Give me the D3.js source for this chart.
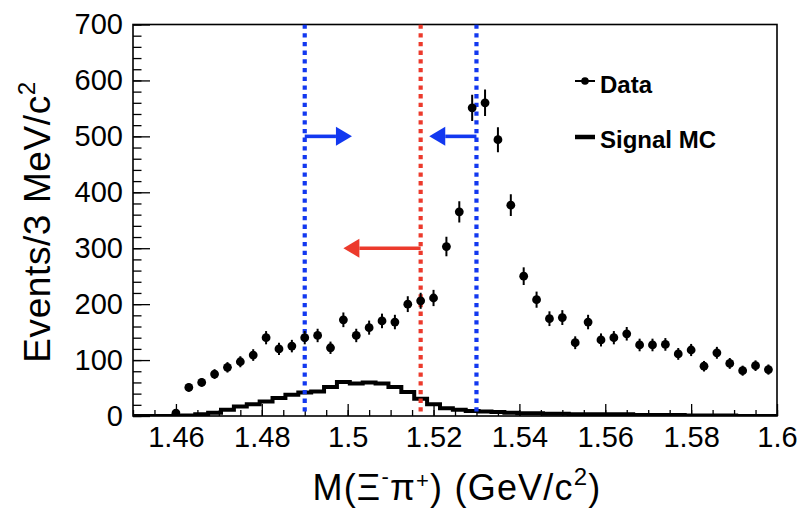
<!DOCTYPE html>
<html><head><meta charset="utf-8">
<script src="https://cdn.jsdelivr.net/npm/d3@7"></script>
<style>
body{margin:0;background:#fff}
text{font-family:"Liberation Sans",Arial,Helvetica,sans-serif;fill:#000}
</style>
</head><body>
<svg id="c" width="802" height="510"></svg>
<script>
// ---- data ----
const binCenters = [1.460,1.463,1.466,1.469,1.472,1.475,1.478,1.481,1.484,1.487,
  1.490,1.493,1.496,1.499,1.502,1.505,1.508,1.511,1.514,1.517,
  1.520,1.523,1.526,1.529,1.532,1.535,1.538,1.541,1.544,1.547,
  1.550,1.553,1.556,1.559,1.562,1.565,1.568,1.571,1.574,1.577,
  1.580,1.583,1.586,1.589,1.592,1.595,1.598];
const dataCounts = [5,51,60,75,87,97,109,140,120,125,
  140,144,122,172,144,158,170,168,200,206,
  211,303,365,551,560,494,377,250,208,174,
  176,131,168,136,140,147,127,127,128,111,
  118,89,113,94,81,90,83];
const mcCenters = [1.451,1.454,1.457,1.460,1.463,1.466,1.469,1.472,1.475,1.478,
  1.481,1.484,1.487,1.490,1.493,1.496,1.499,1.502,1.505,1.508,
  1.511,1.514,1.517,1.520,1.523,1.526,1.529,1.532,1.535,1.538,
  1.541,1.544,1.547,1.550,1.553,1.556,1.559,1.562,1.565,1.568,
  1.571,1.574,1.577,1.580,1.583,1.586,1.589,1.592,1.595,1.598,1.601];
const mcCounts = [0,0,0,0,1,3,6,11,17,21,
  26,32,38,42,44,52,61,58,60,58,
  52,43,31,21,14,11,9,8,7,6,
  5,5,4,4,3,3,3,3,3,2,
  2,2,2,1,1,1,1,0,0,0,0];
const binWidth = 0.003;
const xTicks = [1.46,1.48,1.5,1.52,1.54,1.56,1.58,1.6];
const xTickLabels = ["1.46","1.48","1.5","1.52","1.54","1.56","1.58","1.6"];
const xMinorTicks = [1.45,1.455,1.46,1.465,1.47,1.475,1.48,1.485,1.49,1.495,1.5,1.505,1.51,1.515,1.52,1.525,1.53,1.535,1.54,1.545,1.55,1.555,1.56,1.565,1.57,1.575,1.58,1.585,1.59,1.595,1.6];
const yTicks = [0,100,200,300,400,500,600,700];
const yTickLabels = ["0","100","200","300","400","500","600","700"];
const yMinorTicks = d3.range(0, 701, 20);
const cutPositions = [1.49, 1.517, 1.53];
const cutColors = ["blue","red","blue"];
const arrowFrom = [1.49, 1.53, 1.517];
const arrowTo = [1.501, 1.519, 1.499];
const arrowY = [500, 500, 300];
const arrowColors = ["blue","blue","red"];
const legendLabels = ["Data","Signal MC"];

// ---- styles ----
const COL = {blue:"#1238f0", red:"#ec3a2c"};
const L = 133, R = 777, T = 24.5, B = 416;

const svg = d3.select("#c");
const x = d3.scaleLinear().domain([1.45, 1.6]).range([L, R]);
const y = d3.scaleLinear().domain([0, 700]).range([B, T]);

svg.append("defs").append("clipPath").attr("id","fr")
  .append("rect").attr("x",L).attr("y",T).attr("width",R-L).attr("height",B-T);

function styleAxis(g){ g.select(".domain").remove(); g.selectAll("line").attr("stroke","#000").attr("stroke-width",1.3); }
svg.append("g").attr("transform",`translate(0,${B})`)
  .call(d3.axisBottom(x).tickValues(xMinorTicks).tickSize(-6).tickFormat(""))
  .call(styleAxis);
svg.append("g").attr("transform",`translate(0,${B})`)
  .call(d3.axisBottom(x).tickValues(xTicks).tickSize(-12).tickPadding(10)
    .tickFormat((d,i)=>xTickLabels[i]))
  .call(styleAxis)
  .call(g=>g.selectAll("text").attr("font-size",29).attr("fill","#000"));
svg.append("g").attr("transform",`translate(${L},0)`)
  .call(d3.axisLeft(y).tickValues(yMinorTicks).tickSize(-8.5).tickFormat(""))
  .call(styleAxis);
svg.append("g").attr("transform",`translate(${L},0)`)
  .call(d3.axisLeft(y).tickValues(yTicks).tickSize(-17).tickPadding(10)
    .tickFormat((d,i)=>yTickLabels[i]))
  .call(styleAxis)
  .call(g=>g.selectAll("text").attr("font-size",29).attr("fill","#000"));

svg.append("rect").attr("x",L).attr("y",T).attr("width",R-L).attr("height",B-T)
  .attr("fill","none").attr("stroke","#000").attr("stroke-width",1.6);

const plot = svg.append("g").attr("clip-path","url(#fr)");

// signal MC histogram
const pts = [];
mcCenters.forEach((c,i)=>{ pts.push([c-binWidth/2, mcCounts[i]]); pts.push([c+binWidth/2, mcCounts[i]]); });
plot.append("path").datum(pts)
  .attr("d", d3.line().x(d=>x(d[0])).y(d=>y(d[1])))
  .attr("fill","none").attr("stroke","#000").attr("stroke-width",4).attr("stroke-linejoin","miter");

// cut lines
cutPositions.forEach((c,i)=>{
  plot.append("line").attr("x1",x(c)).attr("x2",x(c)).attr("y1",y(700)).attr("y2",y(0))
    .attr("stroke",COL[cutColors[i]]).attr("stroke-width",4.2).attr("stroke-dasharray","4.3,4.4");
});

// arrows
arrowFrom.forEach((f,i)=>{
  const x0 = x(f), x1 = x(arrowTo[i]), yy = y(arrowY[i]);
  const dir = Math.sign(x1 - x0), head = 16, hw = 9.5;
  const g = svg.append("g").attr("fill",COL[arrowColors[i]]).attr("stroke",COL[arrowColors[i]]);
  g.append("line").attr("x1",x0).attr("x2",x1 - dir*head).attr("y1",yy).attr("y2",yy).attr("stroke-width",3.6);
  g.append("path").attr("stroke","none")
    .attr("d",`M${x1},${yy}L${x1-dir*head},${yy-hw}L${x1-dir*head},${yy+hw}Z`);
});

// data points
const dg = plot.append("g");
binCenters.forEach((c,i)=>{
  const v = dataCounts[i], e = Math.sqrt(v);
  dg.append("line").attr("x1",x(c)).attr("x2",x(c)).attr("y1",y(v-e)).attr("y2",y(v+e))
    .attr("stroke","#000").attr("stroke-width",2);
  dg.append("circle").attr("cx",x(c)).attr("cy",y(v)).attr("r",4.4).attr("fill","#000");
});

// legend
const lg = svg.append("g");
lg.append("line").attr("x1",575).attr("x2",595).attr("y1",81).attr("y2",81).attr("stroke","#000").attr("stroke-width",2);
lg.append("circle").attr("cx",585).attr("cy",81).attr("r",3.8).attr("fill","#000");
lg.append("text").attr("x",600).attr("y",93).attr("font-size",24).attr("font-weight","bold").text(legendLabels[0]);
lg.append("line").attr("x1",575).attr("x2",595).attr("y1",137).attr("y2",137).attr("stroke","#000").attr("stroke-width",4.5);
lg.append("text").attr("x",600).attr("y",148).attr("font-size",24).attr("font-weight","bold").text(legendLabels[1]);

// x title
const xt = svg.append("text").attr("x",457).attr("y",500).attr("font-size",36)
  .attr("text-anchor","middle").attr("letter-spacing",1.2);
xt.append("tspan").text("M(\u039E");
xt.append("tspan").attr("font-size",22).attr("dy",-16).text("-");
xt.append("tspan").attr("dy",16).text("\u03C0");
xt.append("tspan").attr("font-size",22).attr("dy",-12).text("+");
xt.append("tspan").attr("dy",12).text(")  (GeV/c");
xt.append("tspan").attr("font-size",24).attr("dy",-15).text("2");
xt.append("tspan").attr("dy",15).text(")");

// y title
const yt = svg.append("text").attr("transform","translate(50,222) rotate(-90)")
  .attr("text-anchor","middle").attr("font-size",37).attr("letter-spacing",0.6);
yt.append("tspan").text("Events/3 MeV/c");
yt.append("tspan").attr("font-size",24).attr("dy",-15).text("2");
</script>
</body></html>
